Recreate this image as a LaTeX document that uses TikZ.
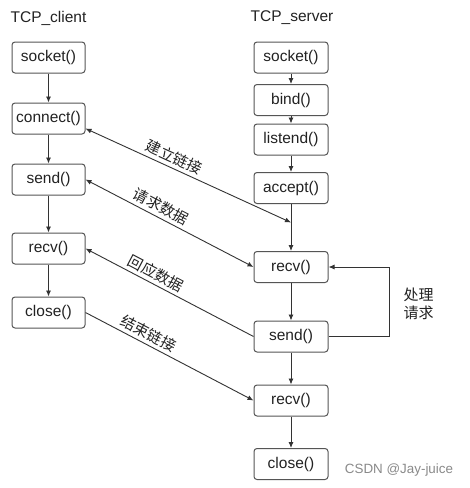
\documentclass[tikz,border=0pt]{standalone}
\usepackage{fontspec}
\setmainfont{Liberation Sans}
\newfontfamily\cjk{Noto Sans CJK SC}
\usetikzlibrary{arrows.meta,calc}
\definecolor{boxc}{HTML}{555555}
\definecolor{linec}{HTML}{333333}
\definecolor{txtc}{HTML}{222222}
\definecolor{wmc}{HTML}{8A8A8A}
\tikzset{
  box/.style={draw=boxc, line width=1pt, rounded corners=3pt, fill=white,
    minimum width=73pt, minimum height=31pt, inner sep=0pt, text=txtc,
    font=\fontsize{15.5}{18}\selectfont},
  sbox/.style={box, minimum width=74pt},
  title/.style={text=txtc, inner sep=0pt, font=\fontsize{15.5}{18}\selectfont},
  conn/.style={draw=linec, line width=0.9pt, -{Latex[length=6pt,width=5pt]}},
  lbl/.style={text=txtc, sloped, above, inner sep=3.5pt, font=\cjk\fontsize{15}{18}\selectfont},
}
\begin{document}
\begin{tikzpicture}[x=1pt,y=1pt]
\path[use as bounding box, fill=white] (0,0) rectangle (470,-488);
% titles
\node[title] (tc) at (48.5,-18) {TCP\_client};
\node[title] (ts) at (292,-18) {TCP\_server};
% client
\node[box] (cs) at (48.5,-57.5) {socket()};
\node[box] (cc) at (48.5,-118.5) {connect()};
\node[box] (cse) at (48.5,-179.5) {send()};
\node[box] (cr) at (48.5,-248.5) {recv()};
\node[box] (ccl) at (48.5,-312.5) {close()};
% server
\node[sbox] (ss) at (291,-57.5) {socket()};
\node[sbox] (sb) at (291,-100) {bind()};
\node[sbox] (sl) at (291,-139.5) {listend()};
\node[sbox] (sa) at (291,-188) {accept()};
\node[sbox] (sr) at (291,-267) {recv()};
\node[sbox] (ssd) at (291,-336.5) {send()};
\node[sbox] (sr2) at (291,-400.5) {recv()};
\node[sbox] (scl) at (291,-464) {close()};
% vertical flows
\draw[conn] (cs) -- (cc);
\draw[conn] (cc) -- (cse);
\draw[conn] (cse) -- (cr);
\draw[conn] (cr) -- (ccl);
\draw[conn] (ss) -- (sb);
\draw[conn] (sb) -- (sl);
\draw[conn] (sl) -- (sa);
\draw[conn] (sa) -- (sr);
\draw[conn] (sr) -- (ssd);
\draw[conn] (ssd) -- (sr2);
\draw[conn] (sr2) -- (scl);
% loop
\coordinate (lp1) at (389,-336.5);
\coordinate (lp2) at (389,-267);
\draw[conn] (ssd.east) -- (lp1) -- (lp2) -- (sr.east);
\node[text=txtc, align=center, inner sep=0pt, font=\cjk\fontsize{15}{18}\selectfont] (proc) at (418.5,-303.5) {处理\\请求};
% cross arrows
\coordinate (cca) at ($(cc.east)+(0,-10)$);
\coordinate (sline) at (291,-222.5);
\draw[conn, {Latex[length=6pt,width=5pt]}-{Latex[length=6pt,width=5pt]}] (cca) -- node[lbl, pos=0.41] {建立链接} (sline);
\draw[conn, {Latex[length=6pt,width=5pt]}-{Latex[length=6pt,width=5pt]}] (cse.east) -- node[lbl, pos=0.42] {请求数据} (sr.west);
\draw[conn, {Latex[length=6pt,width=5pt]}-] (cr.east) -- node[lbl, pos=0.39] {回应数据} (ssd.west);
\draw[conn] (ccl.east) -- node[lbl, pos=0.345] {结束链接} (sr2.west);
% watermark
\node[text=wmc, inner sep=0pt, font=\fontsize{13.4}{16}\selectfont] (wm) at (399,-470) {CSDN @Jay-juice};
\end{tikzpicture}
\end{document}
